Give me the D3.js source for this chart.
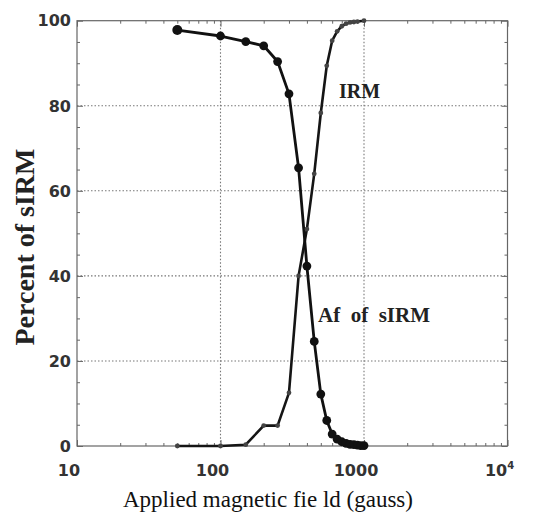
<!DOCTYPE html>
<html lang="en">
<head>
<meta charset="utf-8">
<title>Percent of sIRM</title>
<script src="https://cdn.jsdelivr.net/npm/d3@7"></script>
<style>
  body { margin: 0; background: #fff; }
  .tick line { stroke: #666; }
  .domain { display: none; }
</style>
</head>
<body>
<div id="graph"></div>
<script>
// AF demagnetisation of sIRM (big dots)
var afField   = [50, 100, 150, 200, 250, 300, 350, 400, 450, 500, 550, 600, 650, 700, 750, 800, 850, 900, 950, 1000];
var afPercent = [97.8, 96.4, 95.1, 94.1, 90.4, 82.8, 65.4, 42.3, 24.6, 12.2, 6.0, 2.8, 1.6, 1.0, 0.6, 0.4, 0.3, 0.2, 0.1, 0.1];

// IRM acquisition (small dots)
var irmField   = [50, 100, 150, 200, 250, 300, 350, 400, 450, 500, 550, 600, 650, 700, 750, 800, 850, 900, 1000];
var irmPercent = [0, 0, 0.3, 4.8, 4.8, 12.5, 40, 51, 64, 78.3, 89.4, 95.3, 97.5, 98.7, 99.3, 99.6, 99.7, 99.8, 100];

var yTicks = [0, 20, 40, 60, 80, 100];
var xTicks = [10, 100, 1000, 10000];
var xTickLabels = ["10", "100", "1000", "10"];
var xTickSup = ["", "", "", "4"];

var W = 535, H = 519;
// plot box (window.top is read-only, so own names)
var pLeft = 77, pRight = 507.5, pTop = 20.7, pBottom = 446;

var svg = d3.select("#graph").append("svg").attr("width", W).attr("height", H);

var x = d3.scaleLog().domain([10, 10000]).range([pLeft, pRight]);
var y = d3.scaleLinear().domain([0, 100]).range([pBottom, pTop]);

// minor log ticks 20..90, 200..900, 2000..9000
var xMinor = [];
[10, 100, 1000].forEach(function(d) {
  for (var k = 2; k <= 9; k++) xMinor.push(d * k);
});
var yMinor = d3.range(5, 100, 5).filter(function(d) { return d % 20 != 0; });

// dotted grid
svg.append("g").selectAll("line").data([100, 1000]).enter().append("line")
  .attr("x1", function(d) { return x(d); }).attr("x2", function(d) { return x(d); })
  .attr("y1", pTop).attr("y2", pBottom)
  .attr("stroke", "#777").attr("stroke-width", 1.1).attr("stroke-dasharray", "1.5,2");
svg.append("g").selectAll("line").data([20, 40, 60, 80]).enter().append("line")
  .attr("x1", pLeft).attr("x2", pRight)
  .attr("y1", function(d) { return y(d); }).attr("y2", function(d) { return y(d); })
  .attr("stroke", "#777").attr("stroke-width", 1.1).attr("stroke-dasharray", "1.5,2");

// inward ticks on all four sides
function ticks(axis, tx, ty) {
  svg.append("g").attr("transform", "translate(" + tx + "," + ty + ")").call(axis.tickFormat(""));
}
ticks(d3.axisBottom(x).tickValues(xMinor).tickSize(-3), 0, pBottom);
ticks(d3.axisTop(x).tickValues(xMinor).tickSize(-3), 0, pTop);
ticks(d3.axisBottom(x).tickValues(xTicks).tickSize(-6), 0, pBottom);
ticks(d3.axisTop(x).tickValues(xTicks).tickSize(-6), 0, pTop);
ticks(d3.axisLeft(y).tickValues(yMinor).tickSize(-3), pLeft, 0);
ticks(d3.axisRight(y).tickValues(yMinor).tickSize(-3), pRight, 0);
ticks(d3.axisLeft(y).tickValues(yTicks).tickSize(-6), pLeft, 0);
ticks(d3.axisRight(y).tickValues(yTicks).tickSize(-6), pRight, 0);

// frame
svg.append("rect").attr("x", pLeft).attr("y", pTop)
  .attr("width", pRight - pLeft).attr("height", pBottom - pTop)
  .attr("fill", "none").attr("stroke", "#666").attr("stroke-width", 1.2);

// tick labels
svg.append("g").selectAll("text").data(yTicks).enter().append("text")
  .attr("x", pLeft - 6).attr("y", function(d) { return y(d); })
  .attr("dy", "0.36em").attr("text-anchor", "end")
  .style("font-family", "DejaVu Sans").style("font-weight", "bold").style("font-size", "16px")
  .attr("fill", "#333")
  .text(function(d) { return d; });

var xl = svg.append("g").selectAll("text").data(xTicks).enter().append("text")
  .attr("x", function(d) { return x(d) - 8; }).attr("y", 476)
  .attr("text-anchor", "middle")
  .style("font-family", "DejaVu Sans").style("font-weight", "bold").style("font-size", "16px")
  .attr("fill", "#333");
xl.append("tspan").text(function(d, i) { return xTickLabels[i]; });
xl.append("tspan").attr("dy", "-7").style("font-size", "10px").text(function(d, i) { return xTickSup[i]; });

// curves
var line = d3.line()
  .x(function(d) { return x(d[0]); })
  .y(function(d) { return y(d[1]); });

var afData = afField.map(function(d, i) { return [d, afPercent[i]]; });
var irmData = irmField.map(function(d, i) { return [d, irmPercent[i]]; });

svg.append("path").attr("d", line(irmData))
  .attr("fill", "none").attr("stroke", "#151515").attr("stroke-width", 2.6)
  .attr("stroke-linejoin", "round");
svg.append("path").attr("d", line(afData))
  .attr("fill", "none").attr("stroke", "#111").attr("stroke-width", 2.8)
  .attr("stroke-linejoin", "round");

svg.append("g").selectAll("circle").data(irmData).enter().append("circle")
  .attr("cx", function(d) { return x(d[0]); }).attr("cy", function(d) { return y(d[1]); })
  .attr("r", 2.4).attr("fill", "#444");
svg.append("g").selectAll("circle").data(afData).enter().append("circle")
  .attr("cx", function(d) { return x(d[0]); }).attr("cy", function(d) { return y(d[1]); })
  .attr("r", function(d, i) { return i == 0 ? 5 : 4.4; }).attr("fill", "#111");

// curve labels
svg.append("text").attr("x", 339).attr("y", 98)
  .style("font-family", "Liberation Serif").style("font-weight", "bold").style("font-size", "20px")
  .attr("fill", "#222").text("IRM");
svg.append("text").attr("x", 318).attr("y", 322)
  .style("font-family", "Liberation Serif").style("font-weight", "bold").style("font-size", "21px")
  .style("white-space", "pre").attr("fill", "#222").text("Af  of  sIRM");

// axis titles
svg.append("text").attr("x", 268).attr("y", 507).attr("text-anchor", "middle")
  .style("font-family", "Liberation Serif").style("font-size", "23px")
  .style("white-space", "pre").attr("fill", "#111").text("Applied magnetic fie ld (gauss)");
svg.append("text").attr("transform", "translate(34,247) rotate(-90)").attr("text-anchor", "middle")
  .style("font-family", "Liberation Serif").style("font-weight", "bold").style("font-size", "28px")
  .attr("fill", "#222").text("Percent of sIRM");
</script>
</body>
</html>
